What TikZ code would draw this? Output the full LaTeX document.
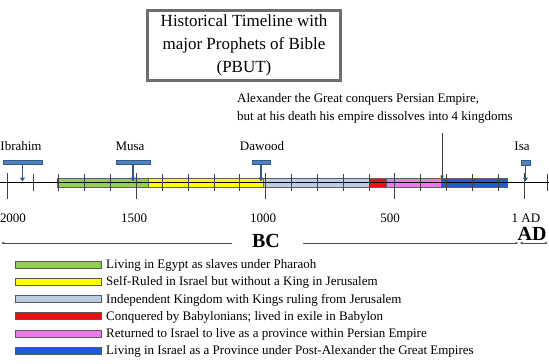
\documentclass[tikz,border=0pt]{standalone}
\usepackage{fontspec}
\setmainfont{Liberation Serif}
\usetikzlibrary{arrows.meta}
\definecolor{cgreen}{RGB}{146,208,80}
\definecolor{cyellow}{RGB}{255,255,0}
\definecolor{clblue}{RGB}{185,204,228}
\definecolor{cred}{RGB}{232,16,16}
\definecolor{cpink}{RGB}{238,120,238}
\definecolor{cblue}{RGB}{28,92,214}
\definecolor{pfill}{RGB}{79,129,189}
\definecolor{pdraw}{RGB}{50,90,140}
\definecolor{boxgray}{RGB}{110,110,110}
\begin{document}
\begin{tikzpicture}[x=1pt,y=-1pt,
  titlebox/.style={draw=boxgray, line width=2.6pt, minimum width=193pt, minimum height=70pt, align=center, inner sep=0pt, font=\fontsize{17}{23}\selectfont},
  lbl/.style={inner sep=0pt, font=\fontsize{13}{17}\selectfont},
  yrlbl/.style={inner sep=0pt, font=\fontsize{13}{15}\selectfont},
  bigbold/.style={inner sep=0pt, font=\fontsize{20}{22}\selectfont\bfseries},
  pbar/.style={draw=pdraw, fill=pfill, line width=0.7pt, inner sep=0pt, minimum height=4pt},
  parrow/.style={draw=pdraw, line width=1.1pt, -{Triangle[length=4pt,width=5pt]}},
  period/.style={draw=gray!75!black, line width=0.7pt},
  tickL/.style={draw=black!75, line width=0.6pt},
  bcline/.style={draw=black!70, line width=0.6pt, -{Latex[length=3pt,width=2.5pt]}},
  swatch/.style={draw=gray!70!black, line width=0.6pt, minimum width=86pt, minimum height=7pt, inner sep=0pt}
]
\useasboundingbox (0,0) rectangle (549,364);

% title
\node[titlebox] (title) at (244,45.5) {Historical Timeline with\\major Prophets of Bible\\(PBUT)};

% period bars
\filldraw[period, fill=cgreen]  (57,178) rectangle (148,187);
\filldraw[period, fill=cyellow] (148,178) rectangle (263,187);
\filldraw[period, fill=clblue]  (263,178) rectangle (369,187);
\filldraw[period, fill=cred]    (369,178) rectangle (386,187);
\filldraw[period, fill=cpink]   (386,178) rectangle (441,187);
\filldraw[period, fill=cblue]   (441,178) rectangle (507,187);

% axis
\draw[black, line width=0.8pt] (0,182) -- (549,182);
\foreach \yr in {2000,1500,1000,500,0}
  \draw[tickL] ({524-0.2585*\yr},173) -- ({524-0.2585*\yr},199);
\foreach \yr in {1900,1800,1700,1600,1400,1300,1200,1100,900,800,700,600,400,300,200,100,-90}
  \draw[tickL] ({524-0.2585*\yr},174) -- ({524-0.2585*\yr},191);

% prophets
\node[lbl] (libr) at (21,146) {Ibrahim};
\node[lbl] (lmusa) at (130,146) {Musa};
\node[lbl] (ldaw) at (262,146) {Dawood};
\node[lbl] (lisa) at (522,146) {Isa};
\node[pbar, minimum width=39pt] (pibr) at (22.5,162.8) {};
\node[pbar, minimum width=34pt] (pmusa) at (133,162.8) {};
\node[pbar, minimum width=18pt] (pdaw) at (261,162.8) {};
\node[pbar, minimum width=9pt, minimum height=4.5pt] (pisa) at (525.5,163) {};
\coordinate (aibr) at (22.5,181.5);
\coordinate (amusa) at (133,181.5);
\coordinate (adaw) at (261,181.5);
\coordinate (aisa) at (525.5,181.5);
\draw[parrow] (pibr.south) -- (aibr);
\draw[parrow] (pmusa.south) -- (amusa);
\draw[parrow] (pdaw.south) -- (adaw);
\draw[parrow] (pisa.south) -- (aisa);

% Alexander
\node[lbl, align=left, font=\fontsize{13}{18}\selectfont] (alex) at (375,108) {Alexander the Great conquers Persian Empire,\\but at his death his empire dissolves into 4 kingdoms};
\coordinate (alexTop) at (442,133);
\coordinate (alexTip) at (442,179);
\draw[black!75, line width=0.7pt, -{Triangle[length=3.5pt,width=3.5pt]}] (alexTop) -- (alexTip);

% year labels
\node[yrlbl] (y2000) at (13,218.5) {2000};
\node[yrlbl] (y1500) at (134,218.5) {1500};
\node[yrlbl] (y1000) at (263,218.5) {1000};
\node[yrlbl] (y500) at (390,218.5) {500};
\node[yrlbl] (y1ad) at (526,218) {1 AD};

% BC / AD
\node[bigbold] (bc) at (266,240.5) {BC};
\node[bigbold] (ad) at (532,233.5) {AD};
\coordinate (bcL) at (1,243);
\coordinate (bcLs) at (232,243);
\coordinate (bcRs) at (303,243);
\coordinate (bcR) at (518.5,243);
\coordinate (adL) at (519.5,243);
\coordinate (adR) at (548,243);
\draw[bcline] (bcLs) -- (bcL);
\draw[bcline] (bcRs) -- (bcR);
\draw[black!70, line width=0.6pt, {Latex[length=3pt,width=2.5pt]}-{Latex[length=3pt,width=2.5pt]}] (adL) -- (adR);

% legend
\foreach \i/\c/\t in {0/cgreen/Living in Egypt as slaves under Pharaoh,
  1/cyellow/Self-Ruled in Israel but without a King in Jerusalem,
  2/clblue/Independent Kingdom with Kings ruling from Jerusalem,
  3/cred/Conquered by Babylonians; lived in exile in Babylon,
  4/cpink/Returned to Israel to live as a province within Persian Empire,
  5/cblue/Living in Israel as a Province under Post-Alexander the Great Empires} {
  \node[swatch, fill=\c] (sw\i) at (58.5,{264.5+17.25*\i}) {};
  \node[lbl, anchor=west] (lt\i) at (106,{265.5+17.25*\i}) {\t};
}
\end{tikzpicture}
\end{document}
